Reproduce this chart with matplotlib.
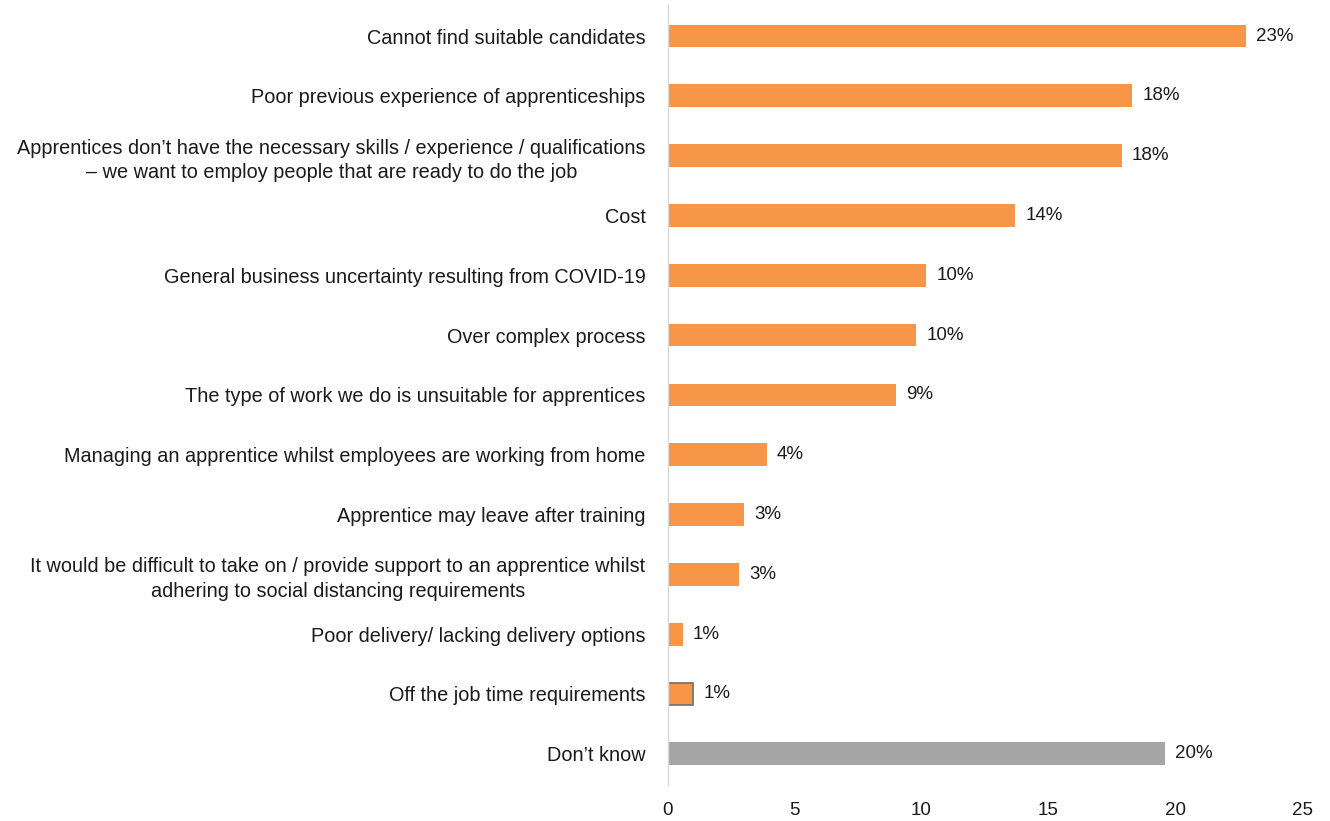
import matplotlib.pyplot as plt

plt.rcParams['font.family'] = ['Liberation Sans', 'DejaVu Sans']

reasons = [
    "Cannot find suitable candidates",
    "Poor previous experience of apprenticeships",
    "Apprentices don\u2019t have the necessary skills / experience / qualifications\n\u2013 we want to employ people that are ready to do the job",
    "Cost",
    "General business uncertainty resulting from COVID-19",
    "Over complex process",
    "The type of work we do is unsuitable for apprentices",
    "Managing an apprentice whilst employees are working from home",
    "Apprentice may leave after training",
    "It would be difficult to take on / provide support to an apprentice whilst\nadhering to social distancing requirements",
    "Poor delivery/ lacking delivery options",
    "Off the job time requirements",
    "Don\u2019t know",
]
shares = [22.8, 18.3, 17.9, 13.7, 10.2, 9.8, 9.0, 3.9, 3.0, 2.8, 0.6, 1.0, 19.6]

orange = "#F79646"
grey = "#A5A5A5"
colors = [orange] * 12 + [grey]
edges = ["none"] * 11 + ["#6f6f6f", "none"]

fig = plt.figure(figsize=(13.3, 8.21), dpi=100)
ax = fig.add_axes([0.502, 0.044, 0.477, 0.950])

y = list(range(len(reasons)))
ax.barh(y, shares, height=0.38, color=colors, edgecolor=edges, linewidth=1.2)

for yi, v in zip(y, shares):
    ax.text(v + 0.4, yi, f"{v:.0f}%", va="center", ha="left", fontsize=13.5, color="#1a1a1a")

ax.set_yticks(y)
ax.set_yticklabels(reasons, fontsize=14.3, color="#1a1a1a", multialignment="center", linespacing=1.35)
ax.tick_params(axis="y", length=0, pad=16)
ax.set_ylim(12.52, -0.52)

ax.set_xlim(0, 25)
ax.set_xticks([0, 5, 10, 15, 20, 25])
ax.tick_params(axis="x", length=0, labelsize=13.5, colors="#1a1a1a", pad=12)

for side in ["top", "right", "bottom"]:
    ax.spines[side].set_visible(False)
ax.spines["left"].set_color("#d9d9d9")
ax.spines["left"].set_linewidth(1)

fig.savefig("out.png", dpi=100)
